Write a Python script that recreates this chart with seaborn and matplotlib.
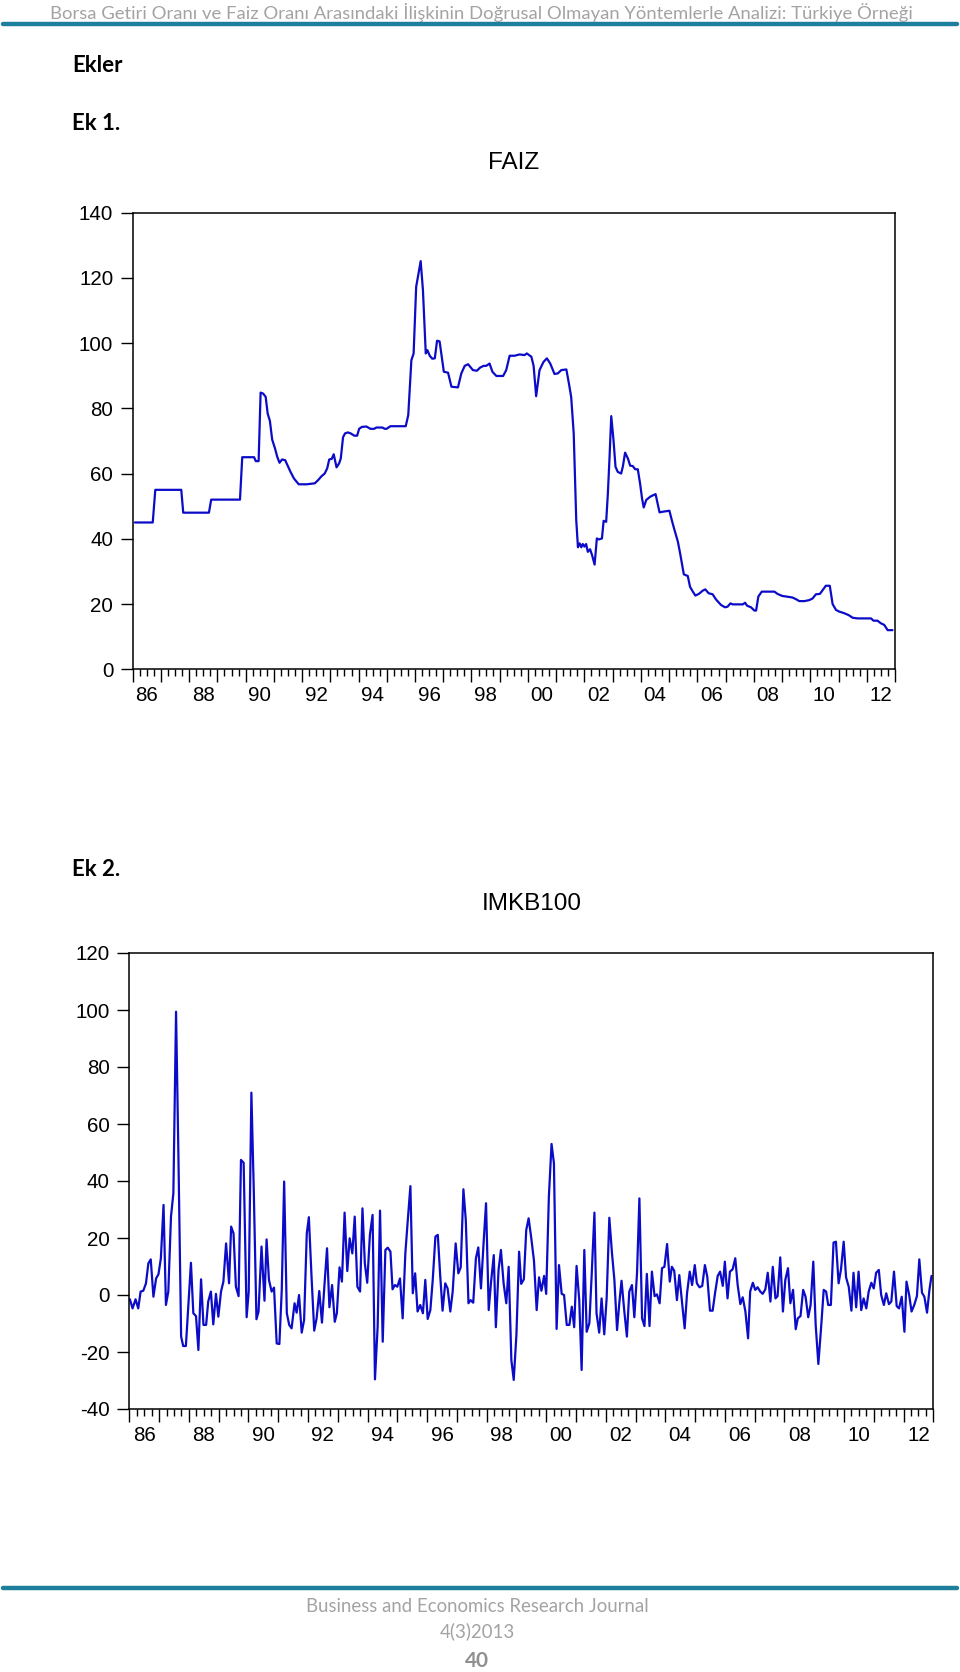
import pandas as pd
import matplotlib
matplotlib.use("Agg")
import matplotlib.pyplot as plt
from matplotlib.lines import Line2D
from matplotlib.ticker import MultipleLocator
import seaborn as sns

# FAIZ (interest rate), decimal years
faiz_date = [
    1986.08, 1986.71, 1986.80, 1987.72, 1987.79, 1988.70, 1988.78, 1989.80, 1989.88, 1990.30,
    1990.36, 1990.46, 1990.53, 1990.62, 1990.71, 1990.78, 1990.86, 1990.94, 1991.04, 1991.12,
    1991.20, 1991.29, 1991.40, 1991.48, 1991.59, 1991.71, 1991.88, 1992.16, 1992.45, 1992.57,
    1992.69, 1992.80, 1992.89, 1992.96, 1993.05, 1993.12, 1993.22, 1993.31, 1993.37, 1993.45,
    1993.52, 1993.62, 1993.72, 1993.85, 1993.95, 1994.02, 1994.12, 1994.28, 1994.42, 1994.55,
    1994.63, 1994.84, 1994.93, 1994.99, 1995.13, 1995.67, 1995.76, 1995.87, 1995.95, 1996.04,
    1996.20, 1996.28, 1996.38, 1996.44, 1996.52, 1996.61, 1996.70, 1996.78, 1996.87, 1997.02,
    1997.17, 1997.29, 1997.52, 1997.64, 1997.76, 1997.88, 1998.05, 1998.19, 1998.31, 1998.43,
    1998.52, 1998.64, 1998.74, 1998.88, 1999.12, 1999.23, 1999.35, 1999.53, 1999.70, 1999.88,
    1999.96, 2000.12, 2000.20, 2000.29, 2000.41, 2000.55, 2000.67, 2000.79, 2000.94, 2001.06,
    2001.18, 2001.36, 2001.45, 2001.53, 2001.62, 2001.71, 2001.77, 2001.83, 2001.89, 2001.94,
    2002.00, 2002.06, 2002.12, 2002.20, 2002.27, 2002.36, 2002.44, 2002.51, 2002.62, 2002.68,
    2002.77, 2002.83, 2002.89, 2002.95, 2003.03, 2003.10, 2003.18, 2003.30, 2003.36, 2003.44,
    2003.54, 2003.62, 2003.71, 2003.80, 2003.89, 2003.97, 2004.04, 2004.10, 2004.19, 2004.33,
    2004.52, 2004.66, 2004.78, 2005.01, 2005.11, 2005.19, 2005.31, 2005.39, 2005.52, 2005.66,
    2005.74, 2005.84, 2005.93, 2006.05, 2006.19, 2006.28, 2006.40, 2006.54, 2006.66, 2006.84,
    2006.98, 2007.07, 2007.17, 2007.25, 2007.43, 2007.61, 2007.69, 2007.76, 2007.90, 2008.02,
    2008.08, 2008.16, 2008.28, 2008.49, 2008.73, 2008.84, 2009.00, 2009.14, 2009.37, 2009.49,
    2009.61, 2009.79, 2009.96, 2010.08, 2010.20, 2010.34, 2010.44, 2010.55, 2010.69, 2010.79,
    2010.91, 2011.02, 2011.20, 2011.36, 2011.50, 2011.67, 2012.15, 2012.24, 2012.38, 2012.50,
    2012.62, 2012.74, 2012.91,
]
faiz_value = [
    45, 45, 55, 55, 48, 48, 52, 52, 65, 65,
    63.8, 63.8, 84.8, 84.5, 83.5, 78.4, 76.1, 70.4, 67.7, 65.1,
    63.3, 64.3, 64.1, 62.6, 60.5, 58.5, 56.7, 56.7, 57.0, 58.0,
    59.2, 60.0, 61.6, 64.3, 64.5, 65.9, 61.9, 63.1, 64.6, 71.1,
    72.3, 72.6, 72.3, 71.6, 71.6, 73.7, 74.3, 74.4, 73.7, 73.7,
    74.1, 74.1, 73.7, 73.7, 74.5, 74.5, 77.9, 94.7, 96.8, 117.2,
    125.1, 116.2, 96.8, 97.8, 96.1, 95.2, 95.3, 100.7, 100.5, 91.2,
    90.9, 86.6, 86.4, 90.7, 93.0, 93.5, 91.7, 91.5, 92.5, 93.0,
    93.0, 93.7, 91.2, 89.9, 89.9, 91.7, 96.1, 96.1, 96.5, 96.3,
    96.8, 95.8, 93.0, 83.7, 91.7, 94.2, 95.3, 93.7, 90.5, 90.7,
    91.7, 91.9, 87.6, 83.5, 72.3, 45.7, 37.4, 38.6, 37.4, 38.4,
    37.6, 38.4, 36.0, 36.8, 35.0, 32.1, 40.1, 39.8, 40.1, 45.5,
    45.2, 53.9, 65.1, 77.6, 70.2, 62.1, 60.5, 60.0, 62.1, 66.4,
    64.6, 62.4, 62.3, 61.3, 61.3, 57.0, 52.4, 49.6, 51.9, 52.9,
    53.7, 48.1, 48.3, 48.6, 45.2, 42.7, 39.1, 35.5, 29.1, 28.6,
    25.3, 23.8, 22.6, 23.1, 24.1, 24.5, 23.3, 23.0, 21.4, 19.7,
    19.0, 19.2, 20.2, 19.9, 19.9, 19.9, 20.4, 19.5, 19.0, 18.0,
    18.0, 22.3, 23.8, 23.8, 23.8, 23.1, 22.5, 22.3, 22.0, 21.5,
    20.9, 20.9, 21.2, 21.7, 23.0, 23.1, 24.3, 25.6, 25.6, 20.0,
    18.2, 17.7, 17.2, 16.6, 15.8, 15.6, 15.6, 14.9, 14.9, 14.1,
    13.6, 12.0, 12.0,
]

# IMKB100 returns, decimal years
imkb_date = [
    1986.02, 1986.11, 1986.21, 1986.30, 1986.38, 1986.47, 1986.56, 1986.64, 1986.72, 1986.81,
    1986.90, 1986.98, 1987.06, 1987.15, 1987.23, 1987.31, 1987.40, 1987.48, 1987.57, 1987.65,
    1987.74, 1987.81, 1987.90, 1987.98, 1988.07, 1988.15, 1988.24, 1988.32, 1988.41, 1988.49,
    1988.58, 1988.65, 1988.74, 1988.82, 1988.91, 1988.99, 1989.08, 1989.16, 1989.25, 1989.35,
    1989.42, 1989.50, 1989.58, 1989.67, 1989.75, 1989.84, 1989.94, 1990.01, 1990.10, 1990.18,
    1990.27, 1990.34, 1990.44, 1990.54, 1990.61, 1990.69, 1990.78, 1990.86, 1990.95, 1991.04,
    1991.12, 1991.20, 1991.29, 1991.37, 1991.45, 1991.55, 1991.62, 1991.70, 1991.79, 1991.87,
    1991.96, 1992.03, 1992.12, 1992.21, 1992.29, 1992.38, 1992.47, 1992.55, 1992.64, 1992.72,
    1992.81, 1992.90, 1992.97, 1993.06, 1993.14, 1993.23, 1993.32, 1993.40, 1993.49, 1993.57,
    1993.66, 1993.75, 1993.83, 1993.91, 1993.99, 1994.08, 1994.17, 1994.25, 1994.34, 1994.42,
    1994.51, 1994.60, 1994.68, 1994.77, 1994.84, 1994.92, 1995.00, 1995.09, 1995.18, 1995.27,
    1995.35, 1995.44, 1995.52, 1995.60, 1995.68, 1995.77, 1995.86, 1995.94, 1996.02, 1996.11,
    1996.19, 1996.28, 1996.36, 1996.44, 1996.52, 1996.61, 1996.69, 1996.78, 1996.86, 1996.96,
    1997.05, 1997.13, 1997.22, 1997.30, 1997.39, 1997.46, 1997.55, 1997.64, 1997.72, 1997.81,
    1997.90, 1997.98, 1998.07, 1998.15, 1998.24, 1998.31, 1998.40, 1998.48, 1998.57, 1998.66,
    1998.74, 1998.83, 1998.91, 1999.00, 1999.09, 1999.16, 1999.25, 1999.33, 1999.41, 1999.50,
    1999.59, 1999.68, 1999.76, 1999.84, 1999.93, 2000.00, 2000.09, 2000.18, 2000.26, 2000.35,
    2000.43, 2000.52, 2000.60, 2000.69, 2000.78, 2000.86, 2000.94, 2001.02, 2001.11, 2001.19,
    2001.28, 2001.36, 2001.45, 2001.53, 2001.62, 2001.69, 2001.78, 2001.86, 2001.95, 2002.03,
    2002.12, 2002.21, 2002.29, 2002.38, 2002.46, 2002.53, 2002.62, 2002.71, 2002.79, 2002.88,
    2002.96, 2003.05, 2003.13, 2003.22, 2003.30, 2003.38, 2003.47, 2003.55, 2003.64, 2003.72,
    2003.81, 2003.89, 2003.97, 2004.06, 2004.15, 2004.22, 2004.30, 2004.39, 2004.47, 2004.56,
    2004.65, 2004.73, 2004.82, 2004.90, 2004.99, 2005.06, 2005.15, 2005.24, 2005.33, 2005.41,
    2005.50, 2005.59, 2005.67, 2005.76, 2005.84, 2005.93, 2006.00, 2006.09, 2006.17, 2006.26,
    2006.35, 2006.43, 2006.52, 2006.60, 2006.69, 2006.78, 2006.85, 2006.94, 2007.02, 2007.10,
    2007.19, 2007.27, 2007.36, 2007.44, 2007.53, 2007.61, 2007.70, 2007.77, 2007.86, 2007.95,
    2008.03, 2008.12, 2008.20, 2008.29, 2008.38, 2008.45, 2008.54, 2008.63, 2008.71, 2008.80,
    2008.88, 2008.97, 2009.05, 2009.14, 2009.23, 2009.32, 2009.40, 2009.47, 2009.56, 2009.65,
    2009.73, 2009.82, 2009.90, 2009.99, 2010.07, 2010.16, 2010.25, 2010.32, 2010.41, 2010.49,
    2010.58, 2010.66, 2010.75, 2010.83, 2010.92, 2011.00, 2011.08, 2011.17, 2011.25, 2011.34,
    2011.42, 2011.51, 2011.59, 2011.68, 2011.77, 2011.85, 2011.94, 2012.03, 2012.10, 2012.19,
    2012.27, 2012.36, 2012.45, 2012.53, 2012.62, 2012.70, 2012.79, 2012.87, 2012.94,
]
imkb_value = [
    -1.5, -4.7, -1.5, -4.7, 1.2, 1.5, 4.1, 11.1, 12.5, -0.6,
    5.8, 7.3, 12.9, 31.6, -3.5, 1.2, 27.5, 35.7, 99.4, 48.5,
    -14.6, -17.9, -17.9, -4.1, 11.3, -6.4, -7.4, -19.3, 5.5, -10.5,
    -10.5, -2.3, 1.2, -10.3, 0.4, -7.6, 1.2, 4.7, 18.1, 4.1,
    24.0, 21.6, 2.9, -0.4, 47.4, 46.4, -7.8, 1.2, 71.0, 36.8,
    -8.5, -5.8, 17.0, -2.0, 19.5, 5.3, 1.2, 2.6, -17.0, -17.2,
    1.8, 39.8, -6.4, -10.5, -11.7, -2.9, -6.2, 0.0, -13.2, -8.8,
    21.6, 27.3, 6.4, -12.5, -8.2, 1.4, -9.7, 2.9, 16.4, -4.3,
    3.5, -9.4, -6.4, 9.7, 4.7, 28.9, 8.4, 19.9, 14.6, 27.5,
    2.9, 1.2, 30.4, 11.1, 4.3, 21.1, 28.1, -29.6, -11.1, 29.6,
    -16.4, 15.8, 16.6, 15.2, 2.0, 3.5, 2.9, 5.8, -8.2, 14.6,
    26.0, 38.2, 0.6, 7.6, -5.8, -3.5, -6.4, 5.3, -8.4, -5.3,
    5.3, 20.5, 21.1, 7.0, -5.5, 4.1, 2.3, -5.8, 1.2, 18.1,
    7.6, 9.7, 37.1, 26.3, -2.9, -1.8, -2.7, 12.9, 16.7, 2.3,
    18.7, 32.2, -5.3, 4.7, 14.0, -11.3, 8.8, 15.8, 4.1, -2.9,
    9.9, -22.8, -29.8, -14.0, 15.2, 3.9, 5.5, 22.8, 26.9, 19.9,
    12.0, -5.3, 6.2, 1.5, 6.7, 0.4, 34.5, 53.0, 46.2, -11.9,
    10.5, 0.4, 0.0, -10.5, -10.5, -4.1, -11.3, 10.2, -1.8, -26.3,
    15.8, -12.9, -9.9, 7.6, 28.9, -6.4, -13.2, -1.2, -13.8, -1.2,
    27.1, 14.6, 5.3, -12.3, -2.3, 5.0, -5.3, -14.6, 1.2, 3.5,
    -7.8, 7.6, 33.9, -8.2, -10.9, 7.4, -10.9, 8.2, -0.4, 0.2,
    -2.9, 9.4, 9.9, 17.9, 4.7, 9.9, 8.5, -1.8, 7.0, -2.3,
    -11.7, 0.6, 8.2, 3.5, 10.5, 4.1, 2.7, 3.2, 10.5, 6.4,
    -5.5, -5.5, 0.6, 6.7, 8.2, 3.2, 11.7, -1.2, 8.2, 9.0,
    12.9, 3.5, -3.2, -0.8, -5.8, -15.2, 1.2, 4.3, 1.8, 2.7,
    1.2, 0.4, 2.0, 7.8, -2.3, 9.9, -1.2, -0.4, 13.2, -5.8,
    5.3, 9.4, -2.9, 1.8, -12.0, -8.2, -7.4, 1.8, -0.6, -7.8,
    -3.5, 11.7, -10.5, -24.2, -11.7, 1.8, 1.2, -3.5, -3.5, 18.4,
    18.7, 4.1, 9.0, 18.7, 6.2, 2.9, -5.5, 7.8, -4.3, 8.2,
    -5.3, -1.2, -4.7, 1.2, 4.3, 2.3, 7.8, 8.8, 0.0, -3.5,
    0.6, -3.2, -2.3, 8.2, -3.9, -4.7, -0.6, -12.9, 4.7, 0.0,
    -5.8, -3.5, -0.4, 12.5, 0.8, -0.6, -6.2, 1.8, 6.7,
]

year_labels = ["86", "88", "90", "92", "94", "96", "98", "00", "02", "04", "06", "08", "10", "12"]

header = ("Borsa Getiri Oranı ve Faiz Oranı Arasındaki İlişkinin Doğrusal "
          "Olmayan Yöntemlerle Analizi: Türkiye Örneği")

sns.set_theme(style="ticks")
plt.rcParams["font.family"] = ["Liberation Sans", "DejaVu Sans"]
plt.rcParams["axes.unicode_minus"] = False
plt.rcParams["text.color"] = "black"
plt.rcParams["xtick.color"] = "black"
plt.rcParams["ytick.color"] = "black"

W, H = 960, 1672
fig = plt.figure(figsize=(W / 100, H / 100), dpi=100)
fig.patch.set_facecolor("white")


def box(l, t, r, b):
    return [l / W, 1 - b / H, (r - l) / W, (b - t) / H]


LINE = "#0c0cc8"
TEAL = "#1c7f9b"


def draw_panel(ax, dates, values, ylim, title):
    df = pd.DataFrame({"date": dates, "value": values})
    sns.lineplot(data=df, x="date", y="value", ax=ax, color=LINE, lw=1.6, sort=False)
    ax.set_xlim(1986, 2013)
    ax.set_ylim(*ylim)
    ax.set_xlabel("")
    ax.set_ylabel("")
    ax.yaxis.set_major_locator(MultipleLocator(20))
    ax.xaxis.set_major_locator(MultipleLocator(1))
    ax.xaxis.set_minor_locator(MultipleLocator(0.25))
    ax.tick_params(axis="x", which="major", length=9, width=1, labelbottom=False)
    ax.tick_params(axis="x", which="minor", length=5, width=1)
    ax.tick_params(axis="y", length=9, width=1, labelsize=14.8, pad=5)
    for s in ax.spines.values():
        s.set_linewidth(1.1)
        s.set_color("black")
    sec = ax.secondary_xaxis("bottom")
    sec.set_xticks([1986.5 + 2 * i for i in range(len(year_labels))], year_labels)
    sec.tick_params(length=0, labelsize=14.8, pad=12)
    sec.spines["bottom"].set_visible(False)
    ax.text(0.5, 1.108, title, transform=ax.transAxes, ha="center", va="center",
            fontsize=17.5)


ax1 = fig.add_axes(box(132.7, 212.5, 895, 669.3))
draw_panel(ax1, faiz_date, faiz_value, (0, 140), "FAIZ")

ax2 = fig.add_axes(box(129.3, 953, 933.3, 1409))
draw_panel(ax2, imkb_date, imkb_value, (-40, 120), "IMKB100")

# page decorations
fig.text(481 / W, 1 - 13 / H, header, ha="center", va="center", color="#a3a3a3",
         family="Lato", fontsize=13.3)
fig.add_artist(Line2D([3 / W, 957 / W], [1 - 24 / H] * 2, lw=3.2, color=TEAL))
fig.add_artist(Line2D([3 / W, 957 / W], [1 - 1588 / H] * 2, lw=3.2, color=TEAL))

for label, y in [("Ekler", 66), ("Ek 1.", 124), ("Ek 2.", 869)]:
    fig.text(72 / W, 1 - y / H, label, ha="left", va="center", family="Lato",
             fontweight="bold", fontsize=16)

fig.text(477 / W, 1 - 1607 / H, "Business and Economics Research Journal", ha="center",
         va="center", color="#a3a3a3", family="Lato", fontsize=13.4)
fig.text(477 / W, 1 - 1631 / H, "4(3)2013", ha="center", va="center", color="#a3a3a3",
         family="Lato", fontsize=13.4)
fig.text(477 / W, 1 - 1661 / H, "40", ha="center", va="center", color="#909090",
         family="Lato", fontweight="bold", fontsize=15)

fig.savefig("out.png", dpi=100, facecolor="white")
